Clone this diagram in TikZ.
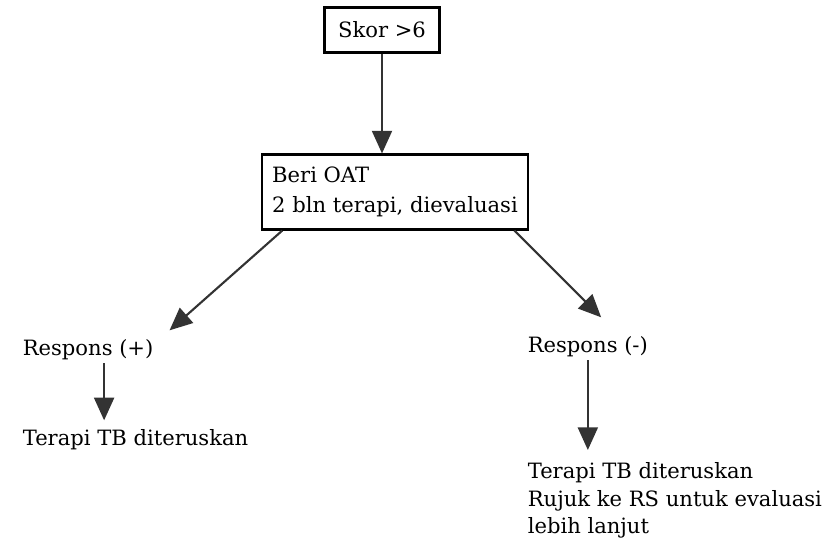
\documentclass[tikz,border=0pt]{standalone}
\usepackage{fontspec}
\setmainfont{DejaVu Serif}
\usetikzlibrary{arrows.meta,positioning}
\tikzset{
    kotak/.style={draw, line width=0.9pt, inner sep=0pt},
    teks/.style={align=left, inner sep=1pt, anchor=west},
    panah/.style={-{Triangle[length=3.4mm, width=3mm]}, line width=0.9pt, black!80}
}

\begin{document}
\begin{tikzpicture}[x=0.015cm, y=-0.015cm, font=\fontsize{9}{11.5}\selectfont]
    \useasboundingbox (0,0) rectangle (822,548);
    \node[kotak, minimum width=1.725cm, minimum height=0.675cm] (skor) at (382,30) {Skor >6};
    \node[kotak, minimum width=3.99cm, minimum height=1.125cm, align=left, font=\fontsize{9}{12.5}\selectfont] (oat) at (395,192) {Beri OAT\\2 bln terapi, dievaluasi};
    \node[teks] (respos) at (20,350) {Respons (+)};
    \node[teks] (respneg) at (525,347) {Respons (-)};
    \node[teks] (lanjut1) at (20,440) {Terapi TB diteruskan};
    \node[teks, anchor=north west, font=\fontsize{9}{11.7}\selectfont] (lanjut2) at (525,460) {Terapi TB diteruskan\\Rujuk ke RS untuk evaluasi\\lebih lanjut};
    \draw[panah] (skor) -- (skor |- oat.north);
    \draw[panah] ([xshift=0.32cm]oat.south west) -- ([xshift=0.2cm, yshift=0.1cm]respos.north east);
    \draw[panah] ([xshift=-0.22cm]oat.south east) -- ([xshift=0.2cm, yshift=0.25cm]respneg.north);
    \draw[panah] ([xshift=0.24cm]respos.south) -- ([xshift=0.24cm, yshift=0.1cm]respos.south |- lanjut1.north);
    \draw[panah] (respneg.south) -- ([yshift=0.15cm]respneg.south |- lanjut2.north);
\end{tikzpicture}
\end{document}
